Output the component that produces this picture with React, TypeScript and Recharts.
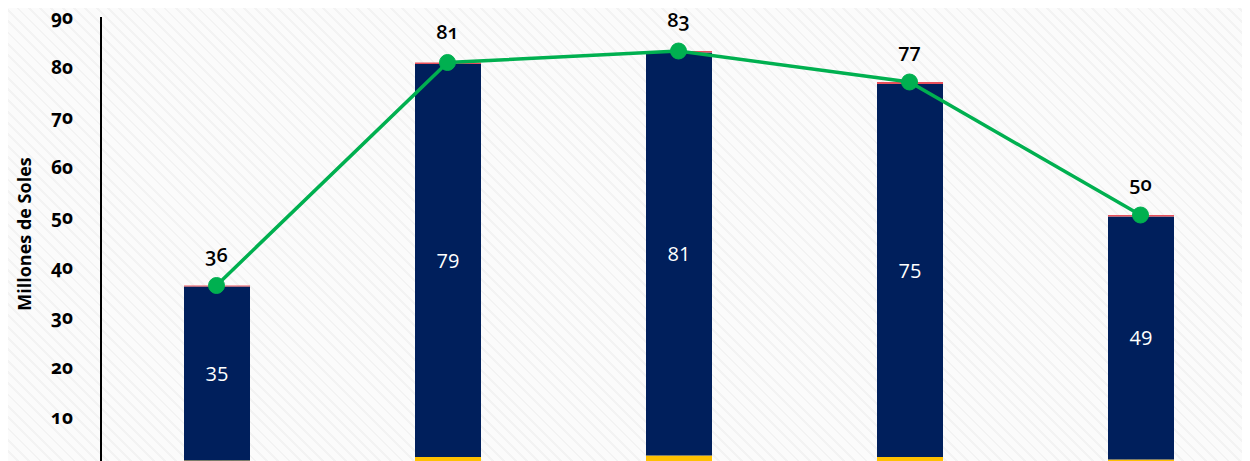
import React from "react";
import {
  ComposedChart, Bar, Line, XAxis, YAxis, LabelList
} from "recharts";

const categories = ["1", "2", "3", "4", "5"];
const yellowVals = [1.3, 2.0, 2.3, 2.0, 1.5];
const navyVals = [34.8, 78.6, 80.6, 74.6, 48.6];
const redVals = [0.2, 0.3, 0.3, 0.4, 0.3];
const totals = [36.3, 80.9, 83.2, 77.0, 50.4];
const yTicks = [10, 20, 30, 40, 50, 60, 70, 80, 90];

const data = categories.map((c, i) => ({
  name: c,
  yellow: yellowVals[i],
  navy: navyVals[i],
  red: redVals[i],
  total: totals[i],
}));

const FONT = "'Open Sans', 'Noto Sans', sans-serif";
const onum = { fontFeatureSettings: '"onum"' };

const YTick = (props: any) => {
  const { x, y, payload } = props;
  return (
    <text
      x={x}
      y={y}
      dy={7}
      textAnchor="end"
      fill="#000"
      fontSize={19}
      fontWeight={700}
      fontFamily={FONT}
      style={onum}
    >
      {payload.value}
    </text>
  );
};

export default function App() {
  return (
    <div
      style={{
        width: 1242,
        height: 461,
        marginTop: -8,
        overflow: "hidden",
        background: "repeating-linear-gradient(45deg, #fbfbfb 0px, #fbfbfb 6px, #f3f3f3 6px, #f3f3f3 8px)",
      }}
    >
      <ComposedChart
        width={1250}
        height={488}
        data={data}
        margin={{ top: 17, right: 2, bottom: 21, left: 0 }}
        barCategoryGap={0}
      >
        <XAxis dataKey="name" hide />
        <YAxis
          width={93}
          domain={[0, 90]}
          ticks={yTicks}
          interval={0}
          axisLine={{ stroke: "#000", strokeWidth: 2 }}
          tickLine={false}
          tickMargin={22}
          tick={<YTick />}
          label={{
            value: "Millones de Soles",
            angle: -90,
            position: "center",
            dx: -30,
            dy: -8,
            fill: "#000",
            fontSize: 18,
            fontWeight: 700,
            fontFamily: FONT,
          }}
        />
        <Bar dataKey="yellow" stackId="a" fill="#FFC000" barSize={66} isAnimationActive={false} />
        <Bar dataKey="navy" stackId="a" fill="#001F5C" barSize={66} isAnimationActive={false}>
          <LabelList
            dataKey="navy"
            position="center"
            fill="#fff"
            fontSize={20}
            fontFamily={FONT}
            formatter={(v: any) => Math.round(Number(v))}
          />
        </Bar>
        <Bar dataKey="red" stackId="a" fill="#E8505B" barSize={66} isAnimationActive={false} />
        <Line
          dataKey="total"
          stroke="#00B050"
          strokeWidth={3.5}
          dot={{ r: 8, fill: "#00B050", stroke: "#00B050", strokeWidth: 1 }}
          isAnimationActive={false}
        >
          <LabelList
            dataKey="total"
            position="top"
            offset={24}
            fill="#000"
            fontSize={20}
            fontWeight={600}
            fontFamily={FONT}
            style={onum}
            formatter={(v: any) => Math.round(Number(v))}
          />
        </Line>
      </ComposedChart>
    </div>
  );
}
